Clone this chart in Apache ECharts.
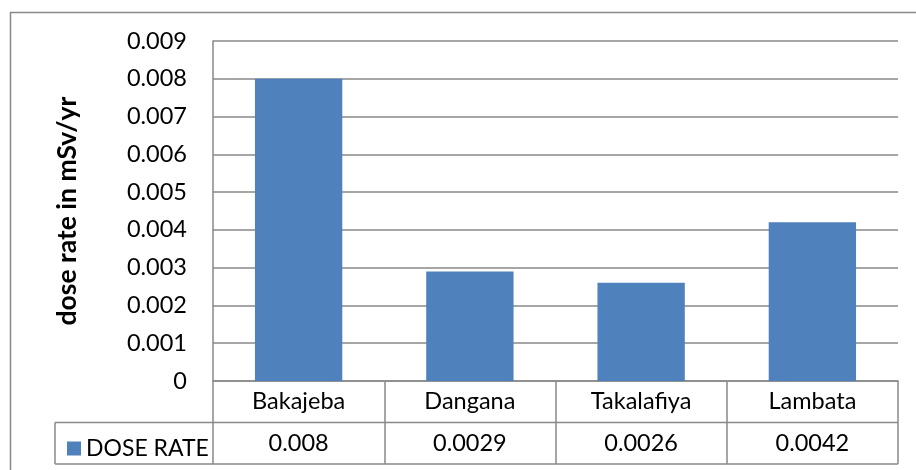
<!DOCTYPE html>
<html>
<head>
<meta charset="utf-8">
<script src="https://cdn.jsdelivr.net/npm/echarts@6/dist/echarts.min.js"></script>
<style>
  html, body { margin: 0; padding: 0; background: #fff; }
  #chart { width: 916px; height: 470px; }
</style>
</head>
<body>
<div id="chart"></div>
<script>
// data
var sites = ['Bakajeba', 'Dangana', 'Takalafiya', 'Lambata'];
var doseRate = [0.008, 0.0029, 0.0026, 0.0042];
var seriesName = 'DOSE RATE';
var yTicks = { min: 0, max: 0.009, step: 0.001 };

var FONT = 'Lato';
var LINE = '#898989';
var BLUE = '#4F81BD';
var FS = 23.5;

// layout of the plot (px)
var plotL = 213, plotR = 898, plotT = 41, plotB = 381, rowH = 41.5;
var tableL = 55;

var chart = echarts.init(document.getElementById('chart'));

var option = {
    animation: false,
    textStyle: { fontFamily: FONT },
    grid: {
        left: plotL,
        right: 916 - plotR,
        top: plotT,
        bottom: 470 - plotB,
        containLabel: false
    },
    legend: {
        data: [seriesName],
        left: 62,
        top: 432,
        icon: 'rect',
        itemWidth: 14,
        itemHeight: 14,
        itemGap: 8,
        selectedMode: false,
        textStyle: { fontFamily: FONT, fontSize: 23, color: '#000', padding: [0, 0, 0, 0] }
    },
    xAxis: {
        type: 'category',
        data: sites,
        axisLine: { show: true, lineStyle: { color: LINE, width: 1.5 } },
        axisTick: { show: true, length: rowH * 2, interval: 0, lineStyle: { color: LINE, width: 1.5 } },
        axisLabel: {
            margin: 0,
            interval: 0,
            formatter: function (v, i) {
                return '{a|' + v + '}\n{a|' + String(doseRate[i]) + '}';
            },
            rich: {
                a: { fontFamily: FONT, fontSize: FS, color: '#000', lineHeight: rowH, align: 'center' }
            }
        }
    },
    yAxis: {
        type: 'value',
        min: yTicks.min,
        max: yTicks.max,
        interval: yTicks.step,
        name: 'dose rate in mSv/yr',
        nameLocation: 'middle',
        nameRotate: 90,
        nameGap: 132,
        nameTextStyle: { fontFamily: FONT, fontSize: 26.5, fontWeight: 'bold', color: '#000' },
        axisLine: { show: true, lineStyle: { color: LINE, width: 1.5 } },
        axisTick: { show: false },
        axisLabel: {
            margin: 26,
            fontFamily: FONT,
            fontSize: FS,
            color: '#000',
            formatter: function (v) { return v === 0 ? '0' : v.toFixed(3); }
        },
        splitLine: { show: true, lineStyle: { color: LINE, width: 1.5 } }
    },
    series: [{
        name: seriesName,
        type: 'bar',
        data: doseRate,
        barWidth: '51%',
        itemStyle: { color: BLUE }
    }],
    graphic: [
        // outer chart border (right/bottom edges fall outside the picture)
        { type: 'rect', shape: { x: 10.5, y: 12.5, width: 1000, height: 1000 },
          style: { fill: null, stroke: LINE, lineWidth: 1.5 }, silent: true },
        // data table horizontal rules and legend cell
        { type: 'line', shape: { x1: tableL, y1: plotB + rowH, x2: plotR, y2: plotB + rowH },
          style: { stroke: LINE, lineWidth: 1.5 }, silent: true },
        { type: 'line', shape: { x1: tableL, y1: plotB + rowH * 2, x2: plotR, y2: plotB + rowH * 2 },
          style: { stroke: LINE, lineWidth: 1.5 }, silent: true },
        { type: 'line', shape: { x1: tableL, y1: plotB + rowH, x2: tableL, y2: plotB + rowH * 2 },
          style: { stroke: LINE, lineWidth: 1.5 }, silent: true }
    ]
};

chart.setOption(option);
</script>
</body>
</html>
